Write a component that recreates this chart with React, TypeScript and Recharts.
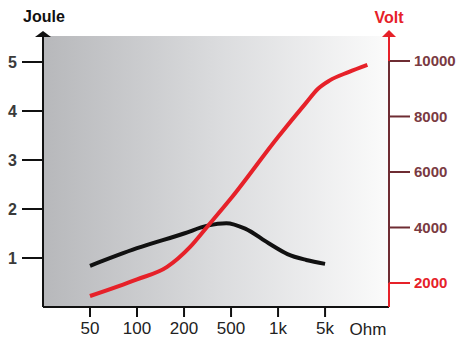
import { LineChart, Line, XAxis, YAxis, ReferenceArea } from 'recharts';

const xTicks = [1, 2, 3, 4, 5, 6];
const ohmLabels = ['50', '100', '200', '500', '1k', '5k'];

const jouleX = [1, 2, 3, 3.5, 3.9, 4.3, 4.8, 5.2, 5.6, 6];
const jouleValues = [0.84, 1.2, 1.5, 1.66, 1.71, 1.6, 1.3, 1.08, 0.96, 0.88];

const voltX = [1, 2, 2.64, 3.13, 3.49, 4, 5, 5.6, 5.85, 6.1, 6.5, 6.9];
const voltValues = [1530, 2130, 2580, 3300, 4020, 5050, 7260, 8500, 9000, 9300, 9600, 9860];

const jouleTicks = [1, 2, 3, 4, 5];
const voltTicks = [2000, 4000, 6000, 8000, 10000];

const X_MAX = 7.36;
const JOULE_MAX = 5.53;
const VOLT_MIN = 1135;
const VOLT_MAX = 10900;

const RED = '#e62129';
const MAROON = '#6e2c33';

const jouleData = jouleX.map((x, i) => ({ x, joule: jouleValues[i] }));
const voltData = voltX.map((x, i) => ({ x, volt: voltValues[i] }));

function LeftAxisHead({ viewBox }: any) {
  const ax = viewBox.x + viewBox.width;
  const top = viewBox.y;
  return (
    <g>
      <polygon points={`${ax - 8},${top + 1} ${ax},${top - 5} ${ax + 8},${top + 1}`} fill="#111" />
      <text x={ax + 1} y={top - 14} textAnchor="middle" fontSize={16} fontWeight="bold" fill="#111">
        Joule
      </text>
    </g>
  );
}

function RightAxisHead({ viewBox }: any) {
  const ax = viewBox.x;
  const top = viewBox.y;
  const bottom = viewBox.y + viewBox.height;
  const scale = (v: number) => top + ((VOLT_MAX - v) / (VOLT_MAX - VOLT_MIN)) * viewBox.height;
  const y2000 = scale(2000);
  const y10000 = scale(10000);
  return (
    <g>
      <line x1={ax} x2={ax} y1={y2000} y2={bottom} stroke={RED} strokeWidth={2} />
      <line x1={ax} x2={ax + 21} y1={y2000} y2={y2000} stroke={RED} strokeWidth={2} />
      <line x1={ax} x2={ax} y1={top} y2={y10000} stroke={RED} strokeWidth={2} />
      <polygon points={`${ax - 7},${top + 1} ${ax},${top - 6} ${ax + 7},${top + 1}`} fill={RED} />
      <text x={ax} y={top - 13} textAnchor="middle" fontSize={16} fontWeight="bold" fill={RED}>
        Volt
      </text>
    </g>
  );
}

function OhmLabel({ viewBox }: any) {
  return (
    <text x={viewBox.x + viewBox.width - 21} y={viewBox.y + 28} textAnchor="middle" fontSize={17} fill="#222">
      Ohm
    </text>
  );
}

function VoltTick({ x, y, payload }: any) {
  const isLow = payload.value === 2000;
  return (
    <text x={x} y={y} dy="0.355em" textAnchor="start" fontSize={15} fontWeight="bold" fill={isLow ? RED : '#7a3a42'}>
      {payload.value}
    </text>
  );
}

export default function App() {
  return (
    <div style={{ position: 'absolute', left: 0, top: 0, fontFamily: '"Liberation Sans", Arial, sans-serif' }}>
      <svg width={0} height={0} style={{ position: 'absolute' }}>
        <defs>
          <linearGradient id="plotBg" x1="0" y1="0" x2="1" y2="0">
            <stop offset="0%" stopColor="#b7b8bb" />
            <stop offset="50%" stopColor="#dadbdd" />
            <stop offset="100%" stopColor="#fbfbfb" />
          </linearGradient>
        </defs>
      </svg>
      <LineChart width={456} height={338} margin={{ top: 36, right: 0, bottom: 0, left: 0 }}>
        <XAxis
          type="number"
          dataKey="x"
          domain={[0, X_MAX]}
          ticks={xTicks}
          allowDataOverflow
          height={31}
          tickSize={10}
          tickMargin={5}
          tickFormatter={(v: number) => ohmLabels[v - 1]}
          axisLine={{ stroke: '#111', strokeWidth: 2 }}
          tickLine={{ stroke: '#111', strokeWidth: 2 }}
          tick={{ fill: '#222', fontSize: 17 }}
          label={{ content: OhmLabel }}
        />
        <YAxis
          yAxisId="left"
          orientation="left"
          width={43}
          domain={[0, JOULE_MAX]}
          ticks={jouleTicks}
          allowDataOverflow
          tickSize={21}
          tickMargin={5}
          axisLine={{ stroke: '#111', strokeWidth: 2 }}
          tickLine={{ stroke: '#111', strokeWidth: 2 }}
          tick={{ fill: '#3a3a3a', fontSize: 16, fontWeight: 'bold' }}
          label={{ content: LeftAxisHead }}
        />
        <YAxis
          yAxisId="right"
          orientation="right"
          width={67}
          domain={[VOLT_MIN, VOLT_MAX]}
          ticks={voltTicks}
          allowDataOverflow
          tickSize={21}
          tickMargin={4}
          axisLine={{ stroke: MAROON, strokeWidth: 2 }}
          tickLine={{ stroke: MAROON, strokeWidth: 2 }}
          tick={VoltTick}
          label={{ content: RightAxisHead }}
        />
        <ReferenceArea
          yAxisId="left"
          x1={0}
          x2={X_MAX}
          y1={0}
          y2={JOULE_MAX}
          fill="url(#plotBg)"
          fillOpacity={1}
          stroke="none"
        />
        <Line
          yAxisId="left"
          data={jouleData}
          dataKey="joule"
          type="monotone"
          stroke="#111"
          strokeWidth={4}
          dot={false}
          isAnimationActive={false}
        />
        <Line
          yAxisId="right"
          data={voltData}
          dataKey="volt"
          type="monotone"
          stroke={RED}
          strokeWidth={4}
          dot={false}
          isAnimationActive={false}
        />
      </LineChart>
    </div>
  );
}
